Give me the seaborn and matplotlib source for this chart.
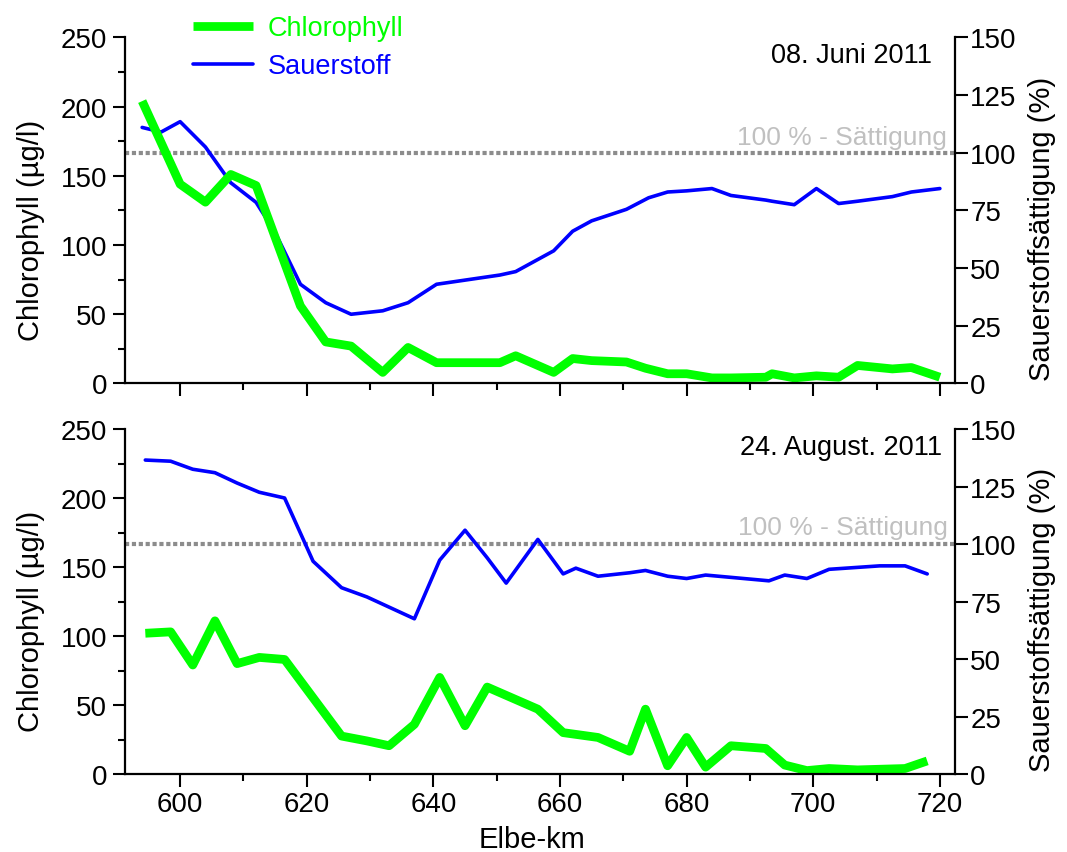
import numpy as np
import pandas as pd
import seaborn as sns
import matplotlib.pyplot as plt
from matplotlib.ticker import MultipleLocator
import matplotlib.transforms as mtransforms

sns.set_theme(style='ticks')
plt.rcParams['font.family'] = ['Liberation Sans', 'DejaVu Sans']
plt.rcParams.update({'text.color': 'black', 'axes.labelcolor': 'black',
                     'xtick.color': 'black', 'ytick.color': 'black'})

# 08. Juni 2011
june_chl_km = [594, 600, 604, 608, 612, 619, 623, 627, 632, 636, 640.5, 650.5, 653, 659, 662, 665,
               670.5, 673.5, 677, 680, 684, 687, 692.5, 693.5, 697, 700.5, 704, 707, 712.5, 715.5, 720]
june_chl = [204, 144, 131, 151, 143, 56, 30, 27, 8, 26, 15, 15, 20, 8, 18, 16.5,
            15.5, 11, 7, 7, 4, 4, 4.5, 7, 4, 5.5, 4.5, 13, 10.5, 11.5, 4.5]
june_o2_km = [594, 597, 600, 604, 608, 612, 615, 619, 623, 627, 632, 636, 640.5, 650.5, 653, 659, 662,
              665, 670.5, 674, 677, 680, 684, 687, 692.5, 693.5, 697, 700.5, 704, 707, 712.5, 715.5, 720]
june_o2 = [111, 109, 113.5, 102.5, 87, 78.5, 65.5, 43, 35, 30, 31.5, 35, 43, 47, 48.5, 57.5, 66,
           70.5, 75.5, 80.5, 83, 83.5, 84.5, 81.5, 79.5, 79, 77.5, 84.5, 78, 79, 81, 83, 84.5]

# 24. August 2011
aug_chl_km = [594.5, 598.5, 602, 605.5, 609, 612.5, 616.5, 625.5, 629.5, 633, 637, 641, 645, 648.5,
              656.5, 660.5, 666, 671, 673.5, 677, 680, 683, 687, 692.5, 695.5, 699, 702.5, 707, 714.5, 718]
aug_chl = [102, 103, 79, 111, 80, 84.5, 83, 27.5, 24, 20.5, 36, 70, 35, 63,
           47, 30, 26.5, 16.5, 47, 6, 26.5, 5, 20.5, 18.5, 6.5, 2.5, 4, 3, 4, 9.5]
aug_o2_km = [594.5, 598.5, 602, 605.5, 609, 612.5, 616.5, 621, 625.5, 629.5, 637, 641, 645, 648.5,
             651.5, 656.5, 660.5, 662.5, 666, 671, 673.5, 677, 680, 683, 687, 693, 695.5, 699, 702.5,
             710.5, 714.5, 718]
aug_o2 = [136.5, 136, 132.5, 131, 126.5, 122.5, 120, 92.5, 81, 77, 67.5, 93, 106, 94,
          83, 102, 87, 89.5, 86, 87.5, 88.5, 86, 85, 86.5, 85.5, 84, 86.5, 85, 89,
          90.5, 90.5, 87]

GREEN = '#00ff00'
BLUE = '#0000ff'
SAT_LEVEL = 100


def draw_panel(ax, date, chl_km, chl, o2_km, o2, date_pos, sat_pos, xlabels):
    ax2 = ax.twinx()
    ax.set_zorder(2)
    ax2.set_zorder(1)
    ax.patch.set_visible(False)

    sns.lineplot(x=o2_km, y=o2, ax=ax2, color=BLUE, linewidth=2.6,
                 estimator=None, sort=False, label='Sauerstoff', legend=False)
    ax2.axhline(SAT_LEVEL, color='#8c8c8c', linewidth=3, dashes=(1, 0.65), zorder=0)
    sns.lineplot(x=chl_km, y=chl, ax=ax, color=GREEN, linewidth=6.3, solid_capstyle='butt',
                 estimator=None, sort=False, label='Chlorophyll', legend=False)

    ax.set_xlim(591.3, 722.4)
    ax.set_ylim(0, 250)
    ax2.set_ylim(0, 150)
    ax.xaxis.set_major_locator(MultipleLocator(20))
    ax.xaxis.set_minor_locator(MultipleLocator(10))
    ax.yaxis.set_major_locator(MultipleLocator(50))
    ax.yaxis.set_minor_locator(MultipleLocator(25))
    ax2.yaxis.set_major_locator(MultipleLocator(25))

    for a in (ax, ax2):
        a.spines['top'].set_visible(False)
        for s in a.spines.values():
            s.set_linewidth(1.6)
            s.set_color('black')
    ax.spines['right'].set_visible(False)
    ax2.spines['left'].set_visible(False)
    ax2.spines['bottom'].set_visible(False)

    ax.tick_params(axis='both', which='major', length=9, width=1.5, labelsize=20, pad=4, color='black')
    ax.tick_params(axis='both', which='minor', length=5, width=1.5, color='black')
    ax.tick_params(axis='x', pad=3, labelbottom=xlabels)
    ax2.tick_params(axis='y', which='major', length=9, width=1.5, labelsize=20, pad=2, color='black')

    ax.set_ylabel('Chlorophyll (µg/l)', fontsize=21)
    ax.yaxis.set_label_coords(-0.097, 0.444)
    ax2.set_ylabel('Sauerstoffsättigung (%)', fontsize=21)
    ax2.yaxis.set_label_coords(1.088, 0.45)
    ax.set_xlabel('')

    ax.text(date_pos[0], date_pos[1], date, transform=ax.transAxes, ha='right',
            va='baseline', fontsize=19.5, color='black')
    trans = mtransforms.blended_transform_factory(ax2.transAxes, ax2.transData)
    ax2.text(sat_pos[0], sat_pos[1], '100 % - Sättigung', transform=trans, ha='right',
             va='baseline', fontsize=19, color='#c0c0c0')
    return ax2


fig = plt.figure(figsize=(10.67, 8.53), dpi=100)
ax_top = fig.add_axes([0.1172, 0.5493, 0.7779, 0.4056])
ax_bot = fig.add_axes([0.1172, 0.0914, 0.7779, 0.4045])

ax_top2 = draw_panel(ax_top, '08. Juni 2011', june_chl_km, june_chl, june_o2_km, june_o2,
                     (0.972, 0.929), (0.990, 103.8), False)
ax_bot2 = draw_panel(ax_bot, '24. August. 2011', aug_chl_km, aug_chl, aug_o2_km, aug_o2,
                     (0.984, 0.928), (0.9916, 104.5), True)

ax_bot.set_xlabel('Elbe-km', fontsize=21)
ax_bot.xaxis.set_label_coords(0.49, -0.148)

fig.legend(handles=[ax_top.lines[0], ax_top2.lines[0]], labels=['Chlorophyll', 'Sauerstoff'],
           loc='upper left', bbox_to_anchor=(0.181, 0.981), frameon=False, fontsize=19.5,
           handlelength=2.2, handletextpad=0.55, labelspacing=0.45, borderpad=0,
           borderaxespad=0, labelcolor='linecolor')

fig.savefig('out.png', dpi=100)
